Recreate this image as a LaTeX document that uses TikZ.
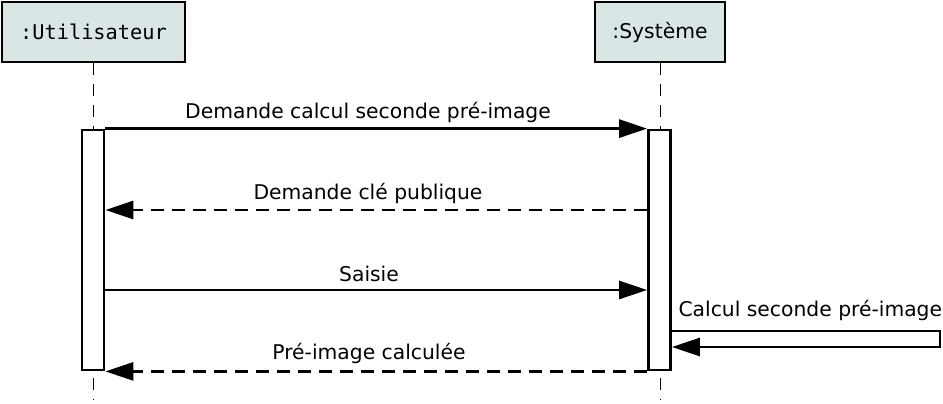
\documentclass[tikz,border=0pt]{standalone}
\usepackage{fontspec}
\setmainfont{DejaVu Sans}
\setmonofont{DejaVu Sans Mono}
\usetikzlibrary{arrows.meta}
\definecolor{boxfill}{RGB}{218,230,230}

\begin{document}
\begin{tikzpicture}[x=1pt,y=-1pt,
  actor/.style={draw,line width=2.8pt,fill=boxfill,minimum height=60pt,inner sep=0pt,font=\fontsize{20.3}{24}\selectfont},
  bar/.style={draw,line width=2.8pt,fill=white,minimum width=22pt,minimum height=240pt,inner sep=0pt},
  lifeline/.style={line width=0.9pt,dash pattern=on 12pt off 9pt},
  msg/.style={line width=2.8pt,-{Triangle[length=28pt,width=18pt]}},
  reply/.style={msg,dash pattern=on 13pt off 8pt},
  lbl/.style={anchor=base,font=\fontsize{20.3}{24}\selectfont}]
\useasboundingbox (0,0) rectangle (943,404);
% lifelines
\node[actor,minimum width=183pt] (user) at (93.5,32) {\ttfamily :Utilisateur};
\node[actor,minimum width=130pt] (sys) at (660,32) {:Système};
\draw[lifeline] (user.south) -- (user.south |- 0,400);
\draw[lifeline] (sys.south) -- (sys.south |- 0,400);
% activations
\node[bar] (ua) at (93,250) {};
\node[bar] (sa) at (659.5,250) {};
% messages
\draw[msg] (ua.north east) -- (sa.north west);
\node[lbl] at (368,118) {Demande calcul seconde pré-image};
\draw[reply] (sa.west |- 0,210) -- (ua.east |- 0,210);
\node[lbl] at (368,199) {Demande clé publique};
\draw[msg] (ua.east |- 0,290) -- (sa.west |- 0,290);
\node[lbl] at (369,281) {Saisie};
\coordinate (selfend) at (940,347);
\draw[msg] (sa.east |- 0,331) -| (selfend) -- (sa.east |- selfend);
\node[lbl,anchor=base west] at (675,316) {Calcul seconde pré-image};
\draw[reply] (sa.south west) -- (ua.south east);
\node[lbl] at (369,359) {Pré-image calculée};
\end{tikzpicture}
\end{document}
